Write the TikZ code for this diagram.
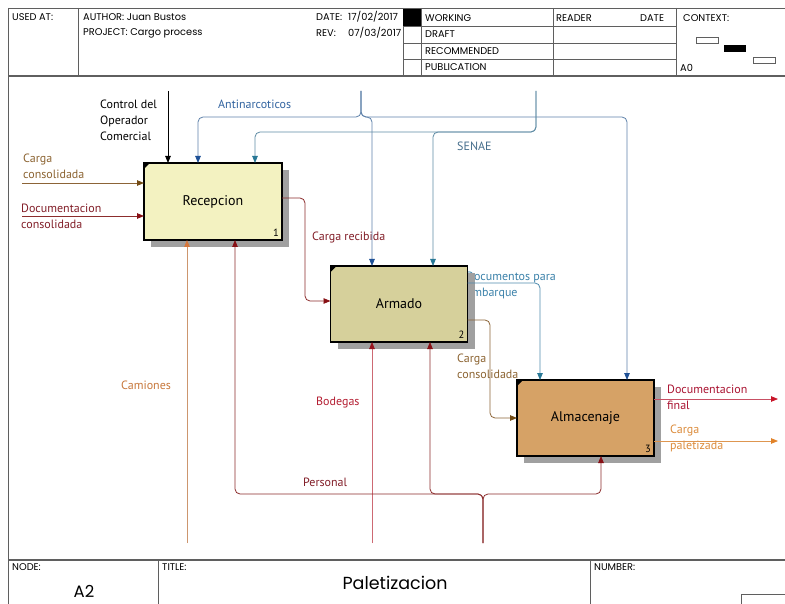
\documentclass[tikz,border=0pt]{standalone}
\usepackage{fontspec}
\setmainfont{PT Sans}
\newfontfamily\hdrfont{Poppins}
\usetikzlibrary{arrows.meta,shadows}
\definecolor{recfill}{RGB}{243,242,193}
\definecolor{armfill}{RGB}{214,208,155}
\definecolor{almfill}{RGB}{214,162,102}
\definecolor{shadowc}{RGB}{160,160,160}
\definecolor{framec}{RGB}{95,95,95}
\definecolor{brownline}{RGB}{140,100,55}
\definecolor{browntip}{RGB}{115,75,20}
\definecolor{brownlbl}{RGB}{140,100,50}
\definecolor{redline}{RGB}{140,45,45}
\definecolor{redtip}{RGB}{135,15,20}
\definecolor{redlbl}{RGB}{130,30,40}
\definecolor{antiline}{RGB}{95,130,170}
\definecolor{antitip}{RGB}{30,80,150}
\definecolor{antilbl}{RGB}{50,100,160}
\definecolor{senaeline}{RGB}{95,140,165}
\definecolor{senaetip}{RGB}{40,120,150}
\definecolor{senaelbl}{RGB}{70,110,140}
\definecolor{docline}{RGB}{80,140,175}
\definecolor{doclbl}{RGB}{60,130,170}
\definecolor{camline}{RGB}{205,150,110}
\definecolor{camtip}{RGB}{215,120,60}
\definecolor{camlbl}{RGB}{200,120,60}
\definecolor{bodline}{RGB}{205,105,115}
\definecolor{bodtip}{RGB}{150,20,30}
\definecolor{bodlbl}{RGB}{180,30,50}
\definecolor{finline}{RGB}{200,80,100}
\definecolor{fintip}{RGB}{200,20,40}
\definecolor{finlbl}{RGB}{170,20,50}
\definecolor{palline}{RGB}{222,150,80}
\definecolor{paltip}{RGB}{225,130,40}
\definecolor{pallbl}{RGB}{220,140,60}
\begin{document}
\begin{tikzpicture}[x=1pt,y=-1pt,
  frameline/.style={draw=framec, line width=0.9pt},
  hdr/.style={font=\hdrfont\fontsize{9.8}{11}\selectfont, anchor=west, inner sep=0pt},
  lbl/.style={font=\fontsize{12}{16.2}\selectfont, anchor=north west, align=left, inner sep=0pt},
  lblone/.style={font=\fontsize{12}{16}\selectfont, anchor=west, inner sep=0pt},
  actbox/.style={draw=black, line width=1.4pt, minimum width=137pt, minimum height=76pt,
    inner sep=0pt, outer sep=0pt, font=\fontsize{14}{16}\selectfont,
    drop shadow={shadow xshift=7pt, shadow yshift=-7pt, fill=shadowc, opacity=1}},
  numlbl/.style={anchor=south east, inner sep=3pt, font=\fontsize{10.5}{11}\selectfont},
  con/.style={line width=0.8pt, rounded corners=5pt},
  tipc/.style={-{Triangle[length=7pt,width=5.5pt,color=#1]}}
]
\useasboundingbox (0,0) rectangle (785,604);
\fill[white] (0,0) rectangle (785,604);
% ---------- frame / header ----------
\draw[frameline] (8,8) -- (785,8);
\draw[frameline] (8,8) -- (8,604);
\draw[framec, line width=1.2pt] (8,76) -- (785,76);
\draw[frameline] (78,8) -- (78,76);
\draw[frameline] (403,8) -- (403,76);
\draw[frameline] (421,8) -- (421,76);
\fill[black] (403,9) rectangle (421,26);
\draw[frameline] (403,26) -- (676,26);
\draw[frameline] (403,43) -- (676,43);
\draw[frameline] (403,59) -- (676,59);
\draw[frameline] (553,8) -- (553,76);
\draw[frameline] (676,8) -- (676,76);
\draw[framec, line width=0.6pt] (696,37) rectangle (718,43);
\fill[black] (724,45) rectangle (746,52);
\draw[framec, line width=0.6pt] (753,57) rectangle (775,63);
\node[hdr] (usedat) at (12,17) {USED AT:};
\node[hdr] (author) at (83,17) {AUTHOR: Juan Bustos};
\node[hdr] (project) at (83,33) {PROJECT: Cargo process};
\node[hdr] (date) at (316,17) {\makebox[32pt][l]{DATE:}17/02/2017};
\node[hdr] (rev) at (316,33) {\makebox[32pt][l]{REV:}07/03/2017};
\node[hdr] (working) at (425,18) {WORKING};
\node[hdr] (draft) at (425,34.5) {DRAFT};
\node[hdr] (recom) at (425,51) {RECOMMENDED};
\node[hdr] (publ) at (425,67.5) {PUBLICATION};
\node[hdr] (reader) at (556,18) {READER};
\node[hdr] (rdate) at (640,18) {DATE};
\node[hdr] (context) at (683,18) {CONTEXT:};
\node[hdr] (azero) at (680,68) {A0};
% bottom block
\draw[framec, line width=1.3pt] (8,560) -- (785,560);
\draw[frameline] (158,560) -- (158,604);
\draw[frameline] (590,560) -- (590,604);
\draw[frameline] (741,604) -- (741,594) -- (785,594);
\node[hdr] (nodel) at (12,567) {NODE:};
\node[hdr] (titlel) at (162,567) {TITLE:};
\node[hdr] (numberl) at (594,567) {NUMBER:};
\node[font=\hdrfont\fontsize{16.5}{19}\selectfont, inner sep=0pt] (nodeval) at (84,591.5) {A2};
\node[font=\hdrfont\fontsize{17.5}{20}\selectfont, inner sep=0pt] (titleval) at (395,583) {Paletizacion};
% ---------- labels ----------
\node[lbl] (lctl) at (100,99.5) {Control del\\Operador\\Comercial};
\node[lblone, text=antilbl] (lanti) at (218,104) {Antinarcoticos};
\node[lbl, text=brownlbl] (lcc) at (23,153.5) {Carga\\consolidada};
\node[lbl, text=redlbl] (ldc) at (21,203.5) {Documentacion\\consolidada};
\node[lblone, text=senaelbl] (lsenae) at (457,146) {SENAE};
\node[lblone, text=redlbl] (lcr) at (312,238) {Carga recibida};
\node[lbl, text=doclbl] (ldoc) at (466,272) {Documentos para\\embarque};
\node[lbl, text=brownlbl] (lcc2) at (457,353.5) {Carga\\consolidada};
\node[lbl, text=finlbl] (lfin) at (667,385) {Documentacion\\final};
\node[lbl, text=pallbl] (lpal) at (670,425) {Carga\\paletizada};
\node[lblone, text=camlbl] (lcam) at (121,385) {Camiones};
\node[lblone, text=bodlbl] (lbod) at (316,403) {Bodegas};
\node[lblone, text=redlbl] (lper) at (303,482) {Personal};
% ---------- activity boxes ----------
\node[actbox, fill=recfill, minimum width=138pt, minimum height=77pt] (rec) at (213,201.5) {Recepcion};
\node[actbox, fill=armfill] (arm) at (399,304) {Armado};
\node[actbox, fill=almfill] (alm) at (585.5,418) {Almacenaje};
\foreach \b/\n in {rec/1,arm/2,alm/3}{
  \fill[black] (\b.north west) -- ++(6,0) -- ++(-6,6) -- cycle;
  \node[numlbl] (\b-num) at (\b.south east) {\n};
}
% ---------- coordinates ----------
\coordinate (ctlsrc) at (168,91);
\coordinate (antisrc) at (361,91);
\coordinate (ya) at (0,117);
\coordinate (xa1) at (198,0);
\coordinate (xa2) at (372,0);
\coordinate (xa3) at (627,0);
\coordinate (senaesrc) at (536,91);
\coordinate (ys) at (0,132);
\coordinate (xs1) at (255,0);
\coordinate (xs2) at (433,0);
\coordinate (ccsrc) at (22,183);
\coordinate (dcsrc) at (22,216);
\coordinate (ycr1) at (0,198);
\coordinate (xcr) at (305,0);
\coordinate (ycr2) at (0,301);
\coordinate (ye) at (0,283);
\coordinate (xe) at (540,0);
\coordinate (ycc1) at (0,320);
\coordinate (xcc) at (490,0);
\coordinate (ycc2) at (0,418);
\coordinate (finend) at (778,399);
\coordinate (palend) at (778,441);
\coordinate (camsrc) at (187,543);
\coordinate (bodsrc) at (372,543);
\coordinate (persrc) at (483,543);
\coordinate (yp) at (0,494);
\coordinate (xp1) at (235,0);
\coordinate (xp2) at (430,0);
\coordinate (xp3) at (601,0);
% ---------- connectors ----------
\draw[con, black, tipc=black] (ctlsrc) -- (rec.north -| ctlsrc);
\draw[con, antiline, tipc=antitip] (antisrc) |- (xa1 |- ya) -- (rec.north -| xa1);
\draw[con, antiline, tipc=antitip] (antisrc) |- (xa2 |- ya) -- (arm.north -| xa2);
\draw[con, antiline, tipc=antitip] (antisrc) |- (xa3 |- ya) -- (alm.north -| xa3);
\draw[con, senaeline, tipc=senaetip] (senaesrc) |- (xs1 |- ys) -- (rec.north -| xs1);
\draw[con, senaeline, tipc=senaetip] (senaesrc) |- (xs2 |- ys) -- (arm.north -| xs2);
\draw[con, brownline, tipc=browntip] (ccsrc) -- (rec.west |- ccsrc);
\draw[con, redline, tipc=redtip] (dcsrc) -- (rec.west |- dcsrc);
\draw[con, redline, tipc=redtip] (rec.east |- ycr1) -| (xcr |- ycr2) -- (arm.west |- ycr2);
\draw[con, docline, tipc=senaetip] (arm.east |- ye) -| (alm.north -| xe);
\draw[con, brownline, tipc=browntip] (arm.east |- ycc1) -| (xcc |- ycc2) -- (alm.west |- ycc2);
\draw[con, finline, tipc=fintip] (alm.east |- finend) -- (finend);
\draw[con, palline, tipc=paltip] (alm.east |- palend) -- (palend);
\draw[con, camline, tipc=camtip] (camsrc) -- (rec.south -| camsrc);
\draw[con, bodline, tipc=bodtip] (bodsrc) -- (arm.south -| bodsrc);
\draw[con, redline, tipc=redtip] (persrc) |- (xp1 |- yp) -- (rec.south -| xp1);
\draw[con, redline, tipc=redtip] (persrc) |- (xp2 |- yp) -- (arm.south -| xp2);
\draw[con, redline, tipc=redtip] (persrc) |- (xp3 |- yp) -- (alm.south -| xp3);
\end{tikzpicture}
\end{document}
